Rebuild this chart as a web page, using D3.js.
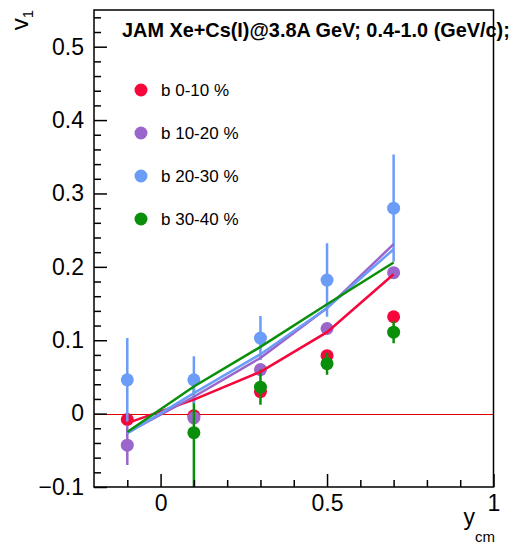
<!DOCTYPE html>
<html><head><meta charset="utf-8">
<script src="https://cdn.jsdelivr.net/npm/d3@7"></script>
<style>body{margin:0;background:#fff}svg{display:block;font-family:"Liberation Sans",Arial,Helvetica,sans-serif}</style>
</head><body>
<svg id="c" width="513" height="546"></svg>
<script>
const xValues = [-0.1, 0.1, 0.3, 0.5, 0.7];
const seriesNames = ["b 0-10 %", "b 10-20 %", "b 20-30 %", "b 30-40 %"];
const seriesColors = ["#f5073c", "#9b66cc", "#6b9cf7", "#0a8f0a"];
// data points (markers) and their errors
const v1Red    = [-0.008, -0.003, 0.030, 0.079, 0.132];
const errRed   = [0.005, 0.005, 0.005, 0.005, 0.006];
const v1Purple = [-0.043, -0.006, 0.060, 0.116, 0.192];
const errPurple= [0.027, 0.006, 0.006, 0.006, 0.006];
const v1Blue   = [0.046, 0.046, 0.103, 0.182, 0.280];
const errBlue  = [0.057, 0.032, 0.030, 0.050, 0.073];
const v1Green  = [null, -0.026, 0.036, 0.068, 0.111];
const errGreen = [null, 0.08, 0.024, 0.015, 0.015];
// model curves
const lineRed    = [-0.013, 0.019, 0.057, 0.111, 0.190];
const linePurple = [-0.026, 0.023, 0.076, 0.144, 0.231];
const lineBlue   = [-0.027, 0.028, 0.081, 0.144, 0.224];
const lineGreen  = [-0.025, 0.037, 0.091, 0.149, 0.206];
const xTickMajor = [0, 0.5, 1];
const yTickMajor = [-0.1, 0, 0.1, 0.2, 0.3, 0.4, 0.5];
const titleText = "JAM Xe+Cs(I)@3.8A GeV; 0.4-1.0 (GeV/c);";

const L=94, R=493.5, T=10, B=487;
const svg = d3.select("#c");
const x = d3.scaleLinear().domain([-0.2, 1.0]).range([L, R]);
const y = d3.scaleLinear().domain([-0.1, 0.55]).range([B, T]);

svg.append("clipPath").attr("id","clip").append("rect").attr("x",L).attr("y",T).attr("width",R-L).attr("height",B-T);

// title
const title = svg.append("text").attr("x",122).attr("y",37).attr("font-weight","bold").attr("font-size",19).text(titleText);
const tl = title.node().getComputedTextLength();
title.attr("font-size", 19*388/tl);

// zero line
const y0 = Math.round(y(0)) + 0.5;
svg.append("line").attr("x1",L).attr("x2",R).attr("y1",y0).attr("y2",y0).attr("stroke","#e00000").attr("stroke-width",1);

const pts = [v1Red, v1Purple, v1Blue, v1Green];
const errs = [errRed, errPurple, errBlue, errGreen];
const lines = [lineRed, linePurple, lineBlue, lineGreen];
const drawOrder = [0,1,3,2];

const g = svg.append("g").attr("clip-path","url(#clip)");
drawOrder.forEach(i=>{
  const d = xValues.map((xv,j)=>({x:xv, v:pts[i][j], e:errs[i][j]})).filter(p=>p.v!==null);
  g.selectAll(null).data(d).enter().append("line")
    .attr("x1",p=>x(p.x)).attr("x2",p=>x(p.x))
    .attr("y1",p=>y(p.v-p.e)).attr("y2",p=>y(p.v+p.e))
    .attr("stroke",seriesColors[i]).attr("stroke-width",2.5);
  g.selectAll(null).data(d).enter().append("circle")
    .attr("cx",p=>x(p.x)).attr("cy",p=>y(p.v)).attr("r",6.5).attr("fill",seriesColors[i]);
});
[0,1,2,3].forEach(i=>{
  const d = xValues.map((xv,j)=>[xv, lines[i][j]]);
  g.append("path").attr("d", d3.line().x(p=>x(p[0])).y(p=>y(p[1]))(d))
    .attr("fill","none").attr("stroke",seriesColors[i]).attr("stroke-width",2.5);
});

// legend
seriesNames.forEach((n,i)=>{
  const cy = 90 + i*43;
  svg.append("circle").attr("cx",141).attr("cy",cy).attr("r",6.5).attr("fill",seriesColors[i]);
  svg.append("text").attr("x",161).attr("y",cy+6).attr("font-size",17).text(n);
});

// frame
svg.append("rect").attr("x",L).attr("y",T).attr("width",R-L).attr("height",B-T).attr("fill","none").attr("stroke","#000").attr("stroke-width",1.5);

// x axis ticks
const xAxis = d3.axisBottom(x).tickValues(xTickMajor).tickSize(-13).tickPadding(8).tickFormat(d3.format("~g"));
const xa = svg.append("g").attr("transform",`translate(0,${B})`).call(xAxis);
xa.select(".domain").remove();
xa.selectAll("line").attr("stroke-width",1.5);
xa.selectAll("text").attr("font-size",23).attr("fill","#000");
const xMinor = d3.axisBottom(x).tickValues(d3.range(-0.1,1.0,0.1).filter(v=>Math.abs(v-0.5)>1e-6 && Math.abs(v)>1e-6)).tickSize(-7).tickFormat("");
const xm = svg.append("g").attr("transform",`translate(0,${B})`).call(xMinor);
xm.select(".domain").remove(); xm.selectAll("line").attr("stroke-width",1.5);

// y axis ticks
const yAxis = d3.axisLeft(y).tickValues(yTickMajor).tickSize(-13).tickPadding(10).tickFormat(d=>d3.format("~g")(d).replace("-","\u2212"));
const ya = svg.append("g").attr("transform",`translate(${L},0)`).call(yAxis);
ya.select(".domain").remove();
ya.selectAll("line").attr("stroke-width",1.5);
ya.selectAll("text").attr("font-size",23).attr("fill","#000");
const yMinorVals = d3.range(-0.08,0.55,0.02).filter(v=>Math.abs(Math.round(v*10)-v*10)>0.01);
const ym = svg.append("g").attr("transform",`translate(${L},0)`).call(d3.axisLeft(y).tickValues(yMinorVals).tickSize(-7).tickFormat(""));
ym.select(".domain").remove(); ym.selectAll("line").attr("stroke-width",1.5);

// axis titles
const xt = svg.append("text").attr("x",495).attr("y",525).attr("text-anchor","end").attr("font-size",23);
xt.append("tspan").text("y");
xt.append("tspan").attr("dy",17).attr("font-size",15).text("cm");
const yt = svg.append("text").attr("transform","translate(28,10) rotate(-90)").attr("text-anchor","end").attr("font-size",24);
yt.append("tspan").text("v");
yt.append("tspan").attr("dy",5).attr("font-size",15).text("1");
</script>
</body></html>
